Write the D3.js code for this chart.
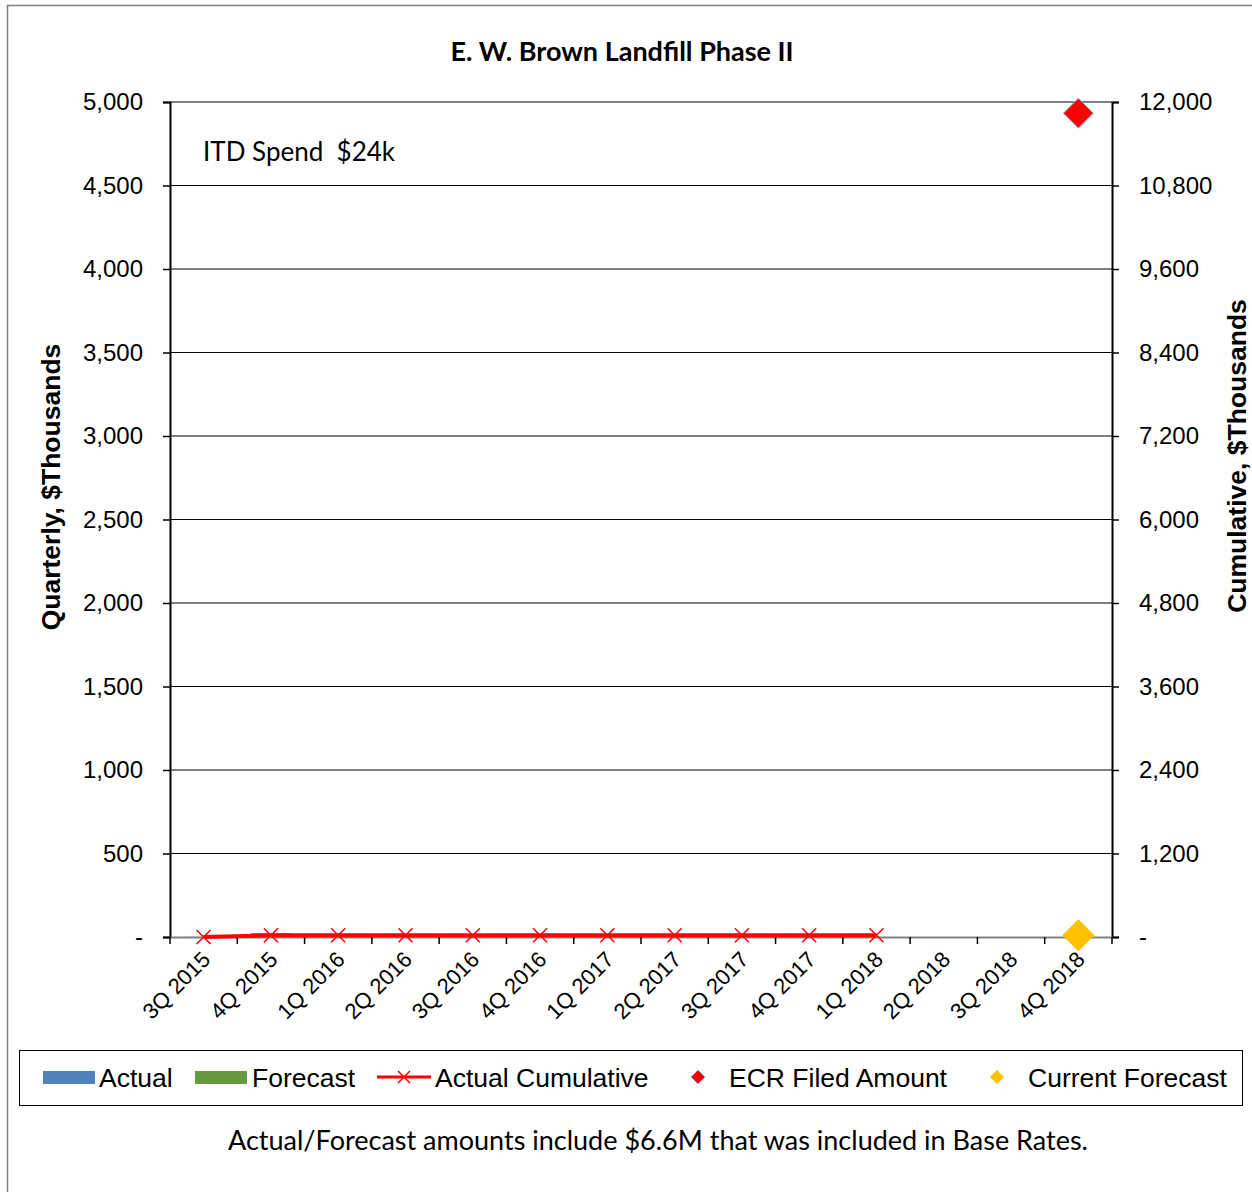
<!DOCTYPE html>
<html>
<head>
<meta charset="utf-8">
<script src="https://cdn.jsdelivr.net/npm/d3@7"></script>
<style>
  body { margin: 0; background: #fff; }
  svg text { fill: #000; }
</style>
</head>
<body>
<svg id="chart"></svg>
<script>
// data
var quarters = ["3Q 2015", "4Q 2015", "1Q 2016", "2Q 2016", "3Q 2016", "4Q 2016", "1Q 2017",
  "2Q 2017", "3Q 2017", "4Q 2017", "1Q 2018", "2Q 2018", "3Q 2018", "4Q 2018"];
var actual = [1, 23, 0, 0, 0, 0, 0, 0, 0, 0, 0, null, null, null];
var forecast = [null, null, null, null, null, null, null, null, null, null, null, 0, 0, 0];
var actualCumulative = [1, 24, 24, 24, 24, 24, 24, 24, 24, 24, 24];
var ecrFiled = [{q: "4Q 2018", v: 11840}];
var currentForecast = [{q: "4Q 2018", v: 24}];
var leftTicks = d3.range(0, 5001, 500);
var rightTicks = d3.range(0, 12001, 1200);

var width = 1252, height = 1192;
var plotL = 170, plotR = 1112, plotT = 102, plotB = 937;

var svg = d3.select("#chart")
    .attr("width", width)
    .attr("height", height);

// outer frame
svg.append("rect")
    .attr("x", 7.5).attr("y", 5.5)
    .attr("width", 1260).attr("height", 1200)
    .attr("fill", "none").attr("stroke", "#7f7f7f").attr("stroke-width", 1.5);

var x = d3.scaleBand().domain(quarters).range([plotL, plotR]);
var yL = d3.scaleLinear().domain([0, 5000]).range([plotB, plotT]);
var yR = d3.scaleLinear().domain([0, 12000]).range([plotB, plotT]);

var fmt = function(d) { return d === 0 ? "-" : d3.format(",")(d); };

// gridlines
svg.append("g").selectAll("line")
    .data(leftTicks.slice(1))
    .enter().append("line")
    .attr("x1", plotL).attr("x2", plotR)
    .attr("y1", function(d) { return yL(d); })
    .attr("y2", function(d) { return yL(d); })
    .attr("stroke", d => d === 5000 ? "#808080" : "#000")
    .attr("stroke-width", d => d === 5000 ? 2 : 1);

// bars (quarterly values are all ~0)
var barW = x.bandwidth() * 0.6;
svg.append("g").selectAll("rect")
    .data(quarters.map(function(q, i) { return {q: q, v: actual[i]}; }).filter(d => d.v != null))
    .enter().append("rect")
    .attr("x", d => x(d.q) + (x.bandwidth() - barW) / 2)
    .attr("width", barW)
    .attr("y", d => yL(d.v))
    .attr("height", d => plotB - yL(d.v))
    .attr("fill", "#4f81bd");
svg.append("g").selectAll("rect")
    .data(quarters.map(function(q, i) { return {q: q, v: forecast[i]}; }).filter(d => d.v != null))
    .enter().append("rect")
    .attr("x", d => x(d.q) + (x.bandwidth() - barW) / 2)
    .attr("width", barW)
    .attr("y", d => yL(d.v))
    .attr("height", d => plotB - yL(d.v))
    .attr("fill", "#649a3c");

// left axis
var axL = svg.append("g")
    .attr("transform", "translate(" + plotL + ",0)")
    .call(d3.axisLeft(yL).tickValues(leftTicks).tickFormat(fmt).tickSize(7).tickPadding(20));
// right axis
var axR = svg.append("g")
    .attr("transform", "translate(" + plotR + ",0)")
    .call(d3.axisRight(yR).tickValues(rightTicks).tickFormat(fmt).tickSize(7).tickPadding(20));
// bottom axis
var axB = svg.append("g")
    .attr("transform", "translate(0," + plotB + ")")
    .call(d3.axisBottom(x).tickSize(0).tickFormat(""));

[axL, axR, axB].forEach(function(a) {
  a.select(".domain").attr("stroke", "#000").attr("stroke-width", 2);
  a.selectAll(".tick line").attr("stroke", "#000").attr("stroke-width", 1.5);
  a.selectAll("text").attr("font-family", "Liberation Sans, Arial, sans-serif")
    .attr("font-size", "24px").attr("fill", "#000");
});
axB.select(".domain").attr("stroke", "#808080");

// x tick marks at band edges
svg.append("g").selectAll("line")
    .data(quarters.concat(["end"]))
    .enter().append("line")
    .attr("x1", (d, i) => plotL + i * x.step())
    .attr("x2", (d, i) => plotL + i * x.step())
    .attr("y1", plotB).attr("y2", plotB + 7)
    .attr("stroke", "#000").attr("stroke-width", 1.5);

// x labels rotated
svg.append("g").selectAll("text")
    .data(quarters)
    .enter().append("text")
    .attr("transform", d => "translate(" + (x(d) + x.bandwidth() / 2 - 3) + "," + (plotB + 13) + ") rotate(-45)")
    .attr("text-anchor", "end")
    .attr("dy", "0.7em")
    .attr("font-family", "Liberation Sans, Arial, sans-serif")
    .attr("font-size", "22px")
    .text(d => d);

// cumulative line
var cumData = actualCumulative.map((v, i) => ({q: quarters[i], v: v}));
svg.append("path")
    .datum(cumData)
    .attr("fill", "none")
    .attr("stroke", "#ff0000")
    .attr("stroke-width", 4)
    .attr("d", d3.line().x(d => x(d.q) + x.bandwidth() / 2).y(d => yR(d.v)));
svg.append("g").selectAll("path")
    .data(cumData)
    .enter().append("path")
    .attr("transform", d => "translate(" + (x(d.q) + x.bandwidth() / 2) + "," + yR(d.v) + ")")
    .attr("d", "M-7,-7L7,7M-7,7L7,-7")
    .attr("stroke", "#ff0000").attr("stroke-width", 1.5).attr("fill", "none");

// diamonds
function diamond(r) { return "M0," + (-r) + "L" + r + ",0L0," + r + "L" + (-r) + ",0Z"; }
svg.append("g").selectAll("path")
    .data(ecrFiled)
    .enter().append("path")
    .attr("transform", d => "translate(" + (x(d.q) + x.bandwidth() / 2) + "," + yR(d.v) + ")")
    .attr("d", diamond(15))
    .attr("fill", "#ff0000").attr("stroke", "#8db3e2").attr("stroke-width", 1);
svg.append("g").selectAll("path")
    .data(currentForecast)
    .enter().append("path")
    .attr("transform", d => "translate(" + (x(d.q) + x.bandwidth() / 2) + "," + yR(d.v) + ")")
    .attr("d", diamond(16))
    .attr("fill", "#ffc000");

// title
svg.append("text")
    .attr("x", 622).attr("y", 61)
    .attr("text-anchor", "middle")
    .attr("font-family", "Lato, Calibri, sans-serif")
    .attr("font-weight", "bold").attr("font-size", "27px")
    .text("E. W. Brown Landfill Phase II");

svg.append("text")
    .attr("x", 203).attr("y", 161)
    .attr("font-family", "Lato, Calibri, sans-serif")
    .attr("font-size", "26px")
    .attr("xml:space", "preserve")
    .text("ITD Spend  $24k");

// axis titles
svg.append("text")
    .attr("transform", "translate(60,487) rotate(-90)")
    .attr("text-anchor", "middle")
    .attr("font-family", "Liberation Sans, Arial, sans-serif")
    .attr("font-weight", "bold").attr("font-size", "26.5px")
    .text("Quarterly, $Thousands");
svg.append("text")
    .attr("transform", "translate(1246,456) rotate(-90)")
    .attr("text-anchor", "middle")
    .attr("font-family", "Liberation Sans, Arial, sans-serif")
    .attr("font-weight", "bold").attr("font-size", "26.5px")
    .text("Cumulative, $Thousands");

// legend
svg.append("rect")
    .attr("x", 19.5).attr("y", 1050.5).attr("width", 1223).attr("height", 55)
    .attr("fill", "none").attr("stroke", "#000").attr("stroke-width", 1);
var lg = svg.append("g").attr("font-family", "Liberation Sans, Arial, sans-serif").attr("font-size", "26.5px");
lg.append("rect").attr("x", 43).attr("y", 1071).attr("width", 52).attr("height", 13).attr("fill", "#4f81bd");
lg.append("text").attr("x", 99).attr("y", 1087).text("Actual");
lg.append("rect").attr("x", 195).attr("y", 1071).attr("width", 52).attr("height", 13).attr("fill", "#649a3c");
lg.append("text").attr("x", 252).attr("y", 1087).text("Forecast");
lg.append("line").attr("x1", 377).attr("x2", 431).attr("y1", 1077).attr("y2", 1077)
    .attr("stroke", "#ff0000").attr("stroke-width", 3);
lg.append("path").attr("transform", "translate(404,1077)").attr("d", "M-6,-6L6,6M-6,6L6,-6")
    .attr("stroke", "#ff0000").attr("stroke-width", 1.5);
lg.append("text").attr("x", 435).attr("y", 1087).text("Actual Cumulative");
lg.append("path").attr("transform", "translate(698,1077)").attr("d", diamond(7))
    .attr("fill", "#ff0000").attr("stroke", "#8db3e2");
lg.append("text").attr("x", 729).attr("y", 1087).text("ECR Filed Amount");
lg.append("path").attr("transform", "translate(997,1077)").attr("d", diamond(7))
    .attr("fill", "#ffc000");
lg.append("text").attr("x", 1028).attr("y", 1087).text("Current Forecast");

// footnote
svg.append("text")
    .attr("x", 658).attr("y", 1150)
    .attr("text-anchor", "middle")
    .attr("font-family", "Lato, Calibri, sans-serif")
    .attr("font-size", "27px")
    .text("Actual/Forecast amounts include $6.6M that was included in Base Rates.");
</script>
</body>
</html>
